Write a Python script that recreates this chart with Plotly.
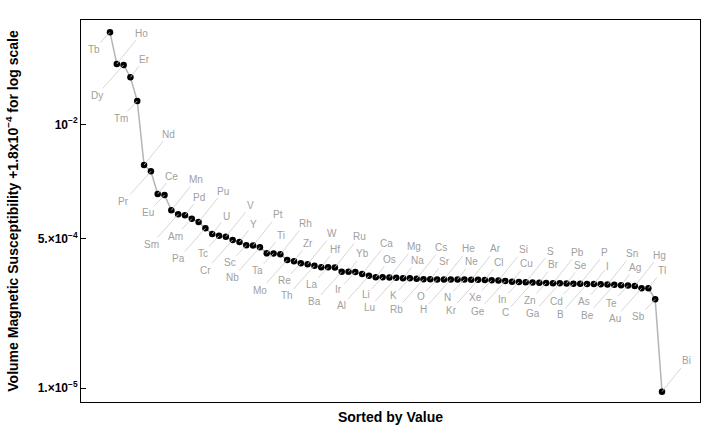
import math
import plotly.graph_objects as go

# ---- data (sorted by value, descending) ----
elements = [
    "Tb", "Ho", "Dy", "Er", "Tm", "Nd", "Pr", "Ce", "Eu", "Mn",
    "Sm", "Pd", "Am", "Pu", "Pa", "U", "Tc", "V", "Cr", "Y",
    "Sc", "Pt", "Nb", "Ti", "Ta", "Rh", "Mo", "Zr", "Re", "W",
    "Th", "Hf", "La", "Ru", "Ba", "Yb", "Ir", "Ca", "Al", "Os",
    "Li", "Mg", "Lu", "Na", "K", "Cs", "Rb", "Sr", "O", "He",
    "H", "Ne", "N", "Ar", "Kr", "Cl", "Xe", "Si", "Ge", "Cu",
    "In", "S", "C", "Br", "Zn", "Pb", "Ga", "Se", "Cd", "P",
    "B", "I", "As", "Sn", "Be", "Ag", "Te", "Hg", "Au", "Tl",
    "Sb", "Bi",
]

# volume magnetic susceptibility + 1.8e-4 (shifted so that log scale works)
susceptibility = [
    0.1113, 0.04853, 0.04727, 0.03424, 0.01841, 0.003443, 0.002920, 0.001611, 0.001569, 0.001051,
    0.0009465, 0.0009220, 0.0008436, 0.0007736, 0.0006557, 0.0005648, 0.0005402, 0.0005262, 0.0004828, 0.0004581,
    0.0004201, 0.0004190, 0.0003987, 0.0003408, 0.0003400, 0.0003320, 0.0002859, 0.0002763, 0.0002622, 0.0002554,
    0.0002462, 0.0002361, 0.0002358, 0.0002350, 0.0002103, 0.0002100, 0.0002087, 0.0001981, 0.0001895, 0.0001817,
    0.0001815, 0.0001810, 0.0001798, 0.0001770, 0.0001768, 0.0001751, 0.0001724, 0.0001722, 0.0001720, 0.0001718,
    0.0001716, 0.0001714, 0.0001712, 0.0001706, 0.0001701, 0.0001693, 0.0001684, 0.0001671, 0.0001649, 0.0001619,
    0.0001607, 0.0001594, 0.0001586, 0.0001578, 0.0001566, 0.0001557, 0.0001553, 0.0001545, 0.0001538, 0.0001534,
    0.0001525, 0.0001523, 0.0001517, 0.0001505, 0.0001493, 0.0001478, 0.0001466, 0.0001447, 0.0001362, 0.0001360,
    0.0001021, 0.00000908,
]

tick_values = [1e-2, 5e-4, 1e-5]
tick_labels = ["10<sup>\u22122</sup>", "5.\u00d710<sup>\u22124</sup>", "1.\u00d710<sup>\u22125</sup>"]

positions = list(range(1, len(elements) + 1))

FONT = "Liberation Sans, Arial, Helvetica, sans-serif"

fig = go.Figure()
fig.add_trace(go.Scatter(
    x=positions, y=susceptibility, text=elements,
    mode="lines+markers",
    line=dict(color="#b5b5b5", width=1.5),
    marker=dict(color="black", size=6.5),
    hovertemplate="%{text}: %{y}<extra></extra>",
    showlegend=False,
))

# callout placement: four alternating positions (near/far, above/below)
callout_cycle = {1: (-16.5, 17.5), 2: (24.7, -30.8), 3: (-27, 30.2), 0: (14, -18)}
for i, (el, v) in enumerate(zip(elements, susceptibility), start=1):
    ax, ay = callout_cycle[i % 4]
    fig.add_annotation(
        x=i, y=math.log10(v), text=el,
        showarrow=True, arrowhead=0, arrowwidth=0.8, arrowcolor="#cccccc",
        standoff=0, ax=ax, ay=ay,
        font=dict(family=FONT, size=10, color="#a0a0a0"),
    )

fig.update_layout(
    width=720, height=426,
    margin=dict(l=81, r=20, t=20, b=24),
    paper_bgcolor="white", plot_bgcolor="white",
    font=dict(family=FONT, color="black"),
)
fig.update_xaxes(
    range=[-3.255, 87.576],
    showticklabels=False, ticks="", showgrid=False, zeroline=False,
    showline=True, mirror=True, linecolor="black", linewidth=1,
    automargin=False,
    title=dict(text="Sorted by Value", font=dict(size=14, weight="bold", family=FONT), standoff=10),
)
fig.update_yaxes(
    type="log", range=[-5.15927, -0.81342],
    tickvals=tick_values, ticktext=tick_labels,
    ticks="inside", ticklen=5, tickcolor="black", tickwidth=1,
    tickfont=dict(size=12, weight="bold", family=FONT),
    showgrid=False, zeroline=False,
    showline=True, mirror=True, linecolor="black", linewidth=1,
    automargin=False,
    title=dict(text="Volume Magnetic Susceptibility +1.8x10<sup>\u22124</sup> for log scale",
               font=dict(size=14, weight="bold", family=FONT), standoff=15),
)

fig.write_html("out.html")
